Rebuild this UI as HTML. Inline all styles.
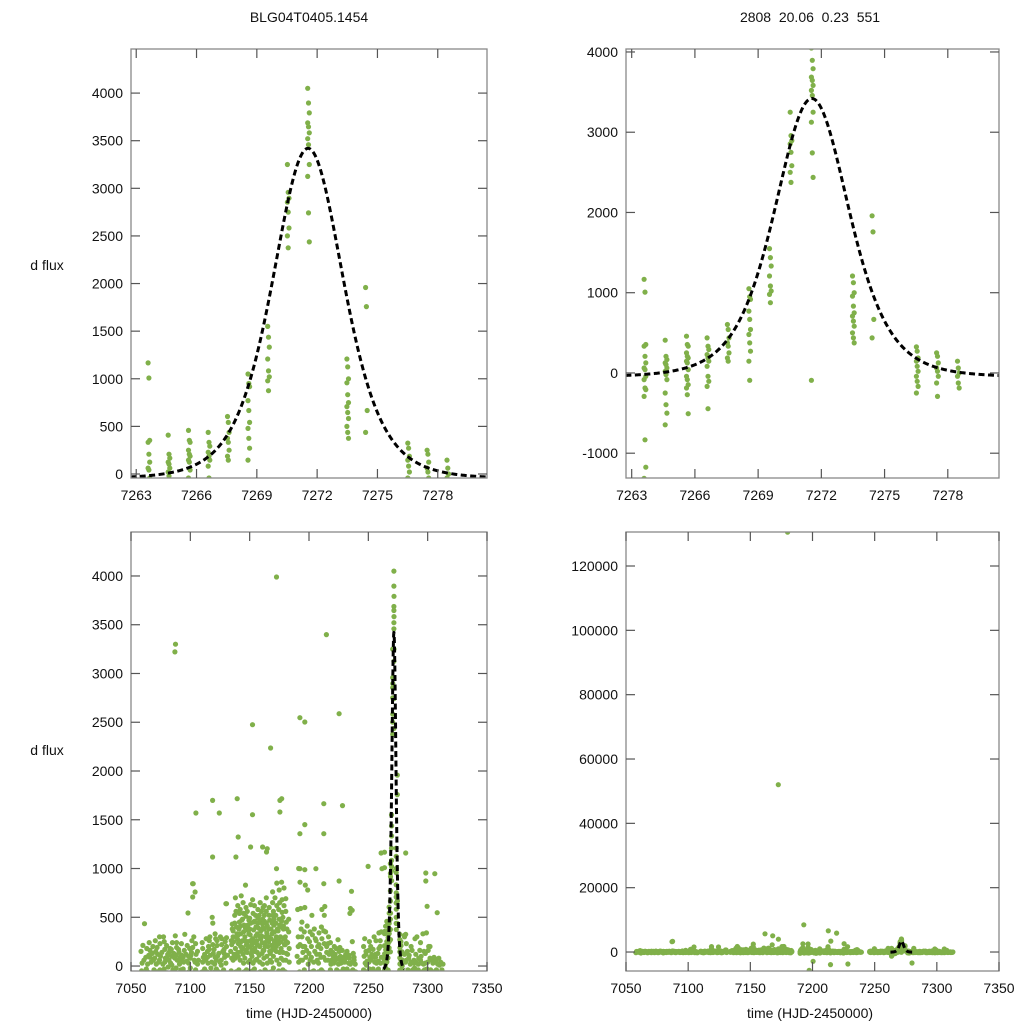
<!DOCTYPE html>
<html><head><meta charset="utf-8">
<style>
html,body{margin:0;padding:0;background:#fff;}
svg{display:block;font-family:"Liberation Sans",sans-serif;}
</style></head>
<body>
<svg id="chart" width="1024" height="1024" viewBox="0 0 1024 1024" xmlns="http://www.w3.org/2000/svg">
<rect width="1024" height="1024" fill="#fff"/>
<text x="309" y="22" font-size="14" text-anchor="middle" fill="#111">BLG04T0405.1454</text>
<text x="810" y="22" font-size="14" text-anchor="middle" fill="#111" xml:space="preserve">2808  20.06  0.23  551</text>
<text x="47" y="270" font-size="14" text-anchor="middle" fill="#111">d flux</text>
<text x="47" y="755" font-size="14" text-anchor="middle" fill="#111">d flux</text>
<text x="309" y="1018" font-size="14" text-anchor="middle" fill="#111">time (HJD-2450000)</text>
<text x="810" y="1018" font-size="14" text-anchor="middle" fill="#111">time (HJD-2450000)</text>
</svg>
<script>
// ---- data: peak nights (shown in zoomed panels) ----
const peakT = [7263.63,7264.63,7265.64,7266.62,7267.58,7268.6,7269.58,7270.56,7271.57,7273.52,7274.45,7276.55,7277.51,7278.5];
const peakV = [
 [1167,1008,354,333,208,125,62,42,-42,-83,-188,-208,-292,-833,-1175,-1313],
 [408,208,167,125,104,62,21,-21,-83,-250,-396,-500,-646],
 [458,354,333,250,208,187,146,125,42,-42,-83,-146,-188,-271,-508],
 [437,333,292,229,187,146,83,-42,-104,-167,-446],
 [604,542,437,375,333,250,187,146],
 [1050,950,917,771,667,542,479,375,271,146,-92],
 [1550,1437,1333,1208,1083,1021,979,875],
 [3250,2958,2896,2854,2750,2583,2500,2375],
 [4050,3896,3792,3687,3646,3583,3521,3458,3250,3125,2742,2437,-92],
 [1208,1125,1000,958,833,750,708,646,583,500,437,375],
 [1958,1758,667,437],
 [325,271,187,146,83,21,-42,-104,-167,-250],
 [250,208,125,62,21,-42,-125,-292],
 [146,62,0,-42,-125,-188]
];
// ---- data: full season baseline nights "t:v,v,..." ----
const seasonNights = [
"7058:-200,150,-50,30","7060:212,-100,60,434","7062:-300,90,-30,180","7064:20,-150,110,240,-60",
"7066:160,-80,40,-250,90","7068:-120,200,60,-40,130","7070:80,-200,150,20,-90,260","7072:-60,120,-180,40,190",
"7074:300,-40,100,-150,60,230","7076:140,-90,20,300,-220","7078:-30,170,80,-120,250,40","7080:210,-70,120,-10,-260,90",
"7082:60,-150,180,30,140","7084:-90,100,240,-40,170,10","7086:130,-200,80,310,-60","7088:-20,190,60,-130,110,240",
"7090:170,-80,20,90,-220,140","7092:-40,230,110,-160,60","7094:90,-110,160,325,-30,40","7096:-180,120,50,210,-70",
"7098:544,100,-60,180,-140,30","7100:80,-200,140,260,-20,110","7102:708,844,-90,60,190,-150,300","7104:759,-40,120,-180,40,230",
"7106:150,-100,60,-250,20","7110:-60,180,90,-140,240,40","7112:120,-230,60,280,-30","7114:-100,150,30,200,-60,90",
"7116:260,-150,110,-20,170,300","7118:40,-90,220,130,-200,500,440","7120:170,-60,90,280,-140,20,330","7122:-30,210,100,-180,60,260",
"7124:130,-120,40,300,-60","7126:60,220,-100,150,10,280,-230","7128:-80,170,90,250,-40,130","7130:639,200,-150,110,30,290",
"7134:-100,260,80,380,150,-50,220,430","7136:300,-180,120,440,60,250,-80,520,360","7138:180,-60,400,290,80,560,-200,330,700",
"7140:620,230,-120,450,140,320,-40,540,270,100,380","7142:60,410,250,-90,580,330,150,470,-230,200,720",
"7144:480,120,350,-60,260,650,30,420,190,-170,540","7146:300,-140,510,220,80,390,600,-40,260,830,160",
"7148:140,420,-100,330,560,250,40,470,-220,190,360","7150:380,60,260,-150,490,200,630,120,-60,320,440",
"7152:220,-50,540,370,100,280,-200,450,160,680,30","7154:460,150,-120,310,620,240,60,400,-30,180,520",
"7156:70,330,490,-180,260,140,580,390,-80,220,440","7158:520,200,-60,360,110,450,650,280,-150,40,300",
"7160:310,-100,430,160,560,240,20,390,-200,130,480,600","7162:160,460,-40,300,80,520,240,-170,380,620,200",
"7164:440,100,280,-120,560,340,30,200,700,-60,410","7166:250,-80,470,130,380,600,-190,60,300,520,150",
"7168:380,160,-140,520,280,40,440,650,-60,210,330,760","7170:100,420,260,-200,560,180,350,700,-20,480,240",
"7172:520,300,60,-100,440,200,620,380,-230,150,850","7174:260,-50,480,140,360,580,20,420,-160,230,780,650",
"7176:400,180,-90,550,300,80,460,680,-200,250,860","7178:140,380,-140,280,500,60,620,220,-40,410,800",
"7180:300,60,450,-180,220,560,130,380,-60,690,250","7182:120,-100,350,40,240,-250,480,180",
"7190:100,-200,300,40,-400,580,200,1000","7192:-150,220,60,380,-60,860,590,-300","7194:300,-80,140,-250,450,60,200",
"7196:-40,200,-310,90,350,600,830,-5670","7198:160,-120,280,20,-200,410,780","7200:-90,250,60,-260,130,-2900,350",
"7202:200,-60,320,-180,90,520,-400","7204:40,-220,150,280,-50,380","7206:260,-100,60,200,-300,120",
"7208:-60,340,120,-150,30,220","7210:180,-40,280,-210,90,400,580","7212:-140,90,230,610,-60,360,520",
"7214:60,-3900,200,-100,350,-260,140","7216:230,-70,120,-200,60,300","7218:-40,160,60,-130,240,20",
"7220:140,-90,30,200,-160,100","7222:-120,60,180,-40,120,-250","7224:80,-170,20,150,-60,270,-300",
"7226:-60,100,30,-140,190,60","7228:160,-3710,-30,90,-120,40","7230:40,-90,120,-40,60,-180",
"7232:-30,90,-150,30,150,-80","7234:80,-60,20,-200,110,540,590","7236:-120,40,-40,130,-70,250","7238:60,-100,20,-60,90",
"7246:-40,100,-150,30,200,-80,280","7248:120,-60,50,-200,150,10","7250:-80,160,-30,90,-160,40,250",
"7252:60,-120,120,-40,200,-220","7254:-30,90,-100,40,170,-150,300","7256:120,-60,30,-180,90,260",
"7258:-100,50,180,-60,130,-30,340","7260:200,-80,90,-150,260,30,350","7280:-80,120,-200,40,-3400,300",
"7282:60,-100,150,-40,230,-160","7284:-60,110,-180,20,80,-120","7286:40,-120,160,-40,200,-220",
"7288:-90,60,-20,280,-150,30","7290:120,-60,300,-180,40","7292:-40,80,-120,160,20,-200","7294:60,-140,30,-60,240,100",
"7296:-100,20,150,-40,330,-180","7298:30,-90,340,-30,130,-250","7300:-60,160,200,-120,40,-200","7302:80,-40,-150,60,200",
"7304:-120,30,-60,90,-180","7306:40,-100,60,-40,-200","7308:-60,20,-140,80","7310:10,-90,40,-160","7312:-40,-120,20"
];
// ---- data: outliers ----
const outT = [7087,7172.6,7214.7,7152.4,7192.3,7196.5,7225.4,7167.6,7118.8,7104.7,7124.4,7139.5,7152.4,7175.5,7177,7175.5,7212.5,7228.2,7140.3,7118.8,7138.4,7150.8,7160.9,7164.8,7164.2,7192.3,7196.5,7212.5,7249.8,7261.5,7298.4,7306,7298.4,7281.5,7260.8,7172.6,7192.3,7196.5,7205.8,7212.5,7225.4,7235.8,7101.9,7130.5,7308,7299.5,7236.4,7281.5,7280.5,7180,7172.5,7161.8,7168,7193,7212.7,7219.4,7087.5];
const outV = [3221,3990,3399,2475,2547,2503,2588,2236,1699,1569,1569,1716,1552,1699,1716,1580,1665,1645,1323,1118,1118,1221,1221,1203,1169,1357,1450,1357,1022,998,954,947,872,1159,1159,998,998,988,998,844,872,766,844,639,547,612,571,325,315,130500,52000,5670,5050,8450,6600,5880,3300];
// ---- model fit parameters ----
const fitParams = [7271.55, 4.1, 3470, -50, 3]; // t0, width, height, baseline, power
const fitRange = [7262.7, 7280.45];
// ---- tick labels ----
const xTicksZoom = [7263,7266,7269,7272,7275,7278];
const xTicksFull = [7050,7100,7150,7200,7250,7300,7350];
const yTicksTL = [0,500,1000,1500,2000,2500,3000,3500,4000];
const yTicksTR = [-1000,0,1000,2000,3000,4000];
const yTicksBL = [0,500,1000,1500,2000,2500,3000,3500,4000];
const yTicksBR = [0,20000,40000,60000,80000,100000,120000];

const NS = "http://www.w3.org/2000/svg";
const svg = document.getElementById('chart');
function mk(tag, attrs, parent){const e=document.createElementNS(NS,tag);for(const k in attrs)e.setAttribute(k,attrs[k]);(parent||svg).appendChild(e);return e;}

// assemble points
const peakPtsT=[], peakPtsV=[];
peakT.forEach((t,i)=>peakV[i].forEach((v,j)=>{peakPtsT.push(t+((j%3)-1)*0.04);peakPtsV.push(v);}));
const allT=peakPtsT.slice(), allV=peakPtsV.slice();
seasonNights.forEach(s=>{const [t,vs]=s.split(':');vs.split(',').forEach((v,j)=>{allT.push(+t+(j%4)*0.45);allV.push(+v);});});
outT.forEach((t,i)=>{allT.push(t);allV.push(outV[i]);});

function model(t){const [t0,w,h,b,p]=fitParams;const x=((t-t0)/w)**2;return b+h/Math.pow(1+x,p);}

const panels = [
 {name:'top-left',zoom:true,px0:131,px1:487,py0:49,py1:478,t0:7262.74,t1:7280.45,v0:-42,v1:4463,xt:xTicksZoom,yt:yTicksTL},
 {name:'top-right',zoom:true,px0:626,px1:999,py0:49,py1:478,t0:7262.73,t1:7280.43,v0:-1309,v1:4037,xt:xTicksZoom,yt:yTicksTR},
 {name:'bottom-left',zoom:false,px0:131,px1:487,py0:532,py1:971,t0:7050,t1:7350,v0:-51,v1:4451,xt:xTicksFull,yt:yTicksBL},
 {name:'bottom-right',zoom:false,px0:626,px1:999,py0:532,py1:971,t0:7050,t1:7350,v0:-5900,v1:130570,xt:xTicksFull,yt:yTicksBR}
];

panels.forEach((p,pi)=>{
 const X=t=>p.px0+(t-p.t0)/(p.t1-p.t0)*(p.px1-p.px0);
 const Y=v=>p.py1-(v-p.v0)/(p.v1-p.v0)*(p.py1-p.py0);
 const g=mk('g',{});
 
 
 const cp=mk('clipPath',{id:'clip'+pi},g);
 mk('rect',{x:p.px0,y:p.py0,width:p.px1-p.px0,height:p.py1-p.py0},cp);
 const pts=mk('g',{'clip-path':'url(#clip'+pi+')',fill:'#80b04a'},g);
 
 
 const TT=p.zoom?peakPtsT:allT, VV=p.zoom?peakPtsV:allV;
 TT.forEach((t,i)=>{
  const v=VV[i];
  if(t<p.t0||t>p.t1||v<p.v0-500)return;
  const c=mk('circle',{cx:X(t).toFixed(1),cy:Y(v).toFixed(1),r:2.6},pts);
  
  
 });
 let d='';
 const n=400;
 for(let k=0;k<=n;k++){const t=fitRange[0]+(fitRange[1]-fitRange[0])*k/n;d+=(k?'L':'M')+X(t).toFixed(2)+' '+Y(model(t)).toFixed(2);}
 const fl=mk('path',{d:d,fill:'none',stroke:'#000','stroke-width':3,'stroke-dasharray':'6 3.5','clip-path':'url(#clip'+pi+')'},g);
 
 
 const fr=mk('rect',{x:p.px0,y:p.py0,width:p.px1-p.px0,height:p.py1-p.py0,fill:'none',stroke:'#888','stroke-width':1.3},g);
 
 
 p.xt.forEach(t=>{
  const x=X(t);
  mk('line',{x1:x,x2:x,y1:p.py1,y2:p.py1-9,stroke:'#555','stroke-width':1.2},g);
  mk('line',{x1:x,x2:x,y1:p.py0,y2:p.py0+9,stroke:'#555','stroke-width':1.2},g);
  const tl=mk('text',{x:x,y:p.py1+22,'font-size':14,'text-anchor':'middle',fill:'#111'},g);
  tl.textContent=t;
  
  
 });
 p.yt.forEach(v=>{
  const y=Y(v);
  mk('line',{x1:p.px0,x2:p.px0+9,y1:y,y2:y,stroke:'#555','stroke-width':1.2},g);
  mk('line',{x1:p.px1,x2:p.px1-9,y1:y,y2:y,stroke:'#555','stroke-width':1.2},g);
  const tl=mk('text',{x:p.px0-8,y:y+5,'font-size':14,'text-anchor':'end',fill:'#111'},g);
  tl.textContent=v;
  
  
 });
});
</script>
</body></html>
